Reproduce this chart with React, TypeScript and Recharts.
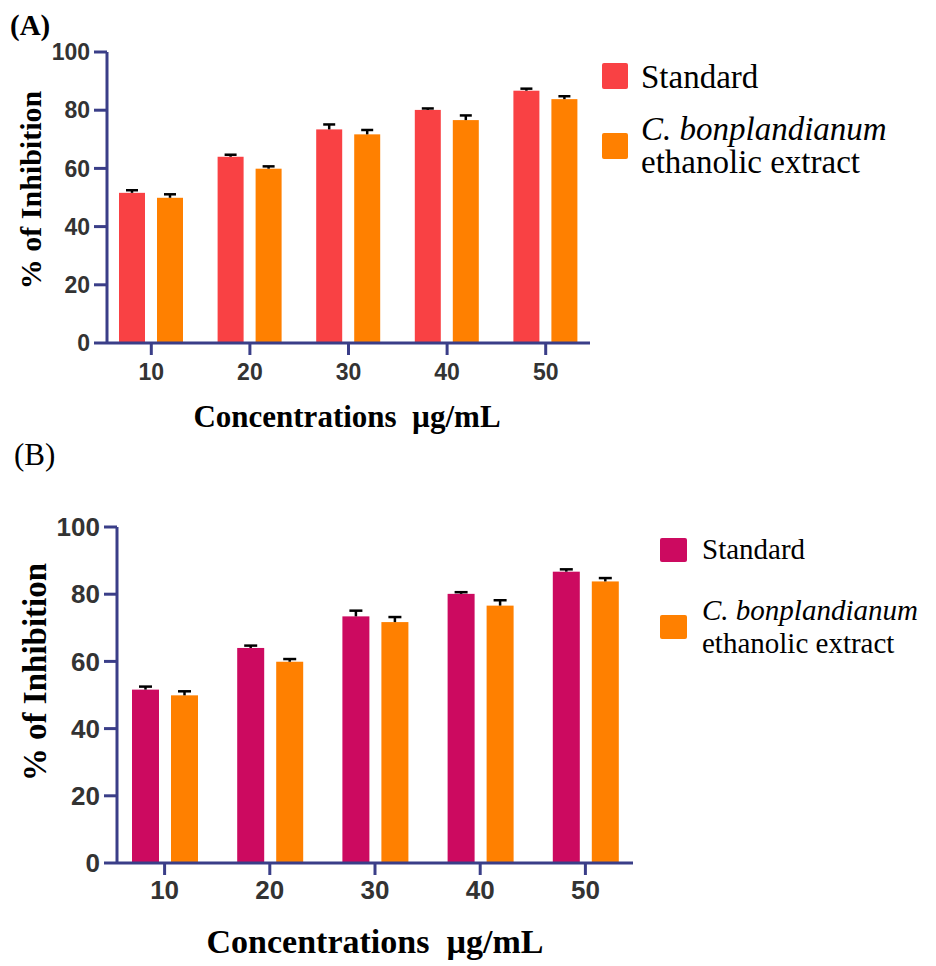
import { BarChart, Bar, XAxis, YAxis } from "recharts";

const concentrations = ["10", "20", "30", "40", "50"];
const standardValues = [51.6, 64.0, 73.4, 80.1, 86.7];
const standardErrors = [0.9, 0.7, 1.7, 0.5, 0.7];
const extractValues = [49.9, 59.9, 71.7, 76.6, 83.8];
const extractErrors = [1.2, 0.8, 1.5, 1.6, 1.0];
const yTicks = [0, 20, 40, 60, 80, 100];
const seriesNames = ["Standard", "C. bonplandianum", "ethanolic extract"];

const data = concentrations.map((c, i) => ({
  name: c,
  standard: standardValues[i],
  standardErr: standardErrors[i],
  extract: extractValues[i],
  extractErr: extractErrors[i],
}));

const AXIS = "#3a3e88";
const TICK_FONT = "'Liberation Sans', Arial, sans-serif";
const SERIF = "'Liberation Serif', 'Times New Roman', serif";
const ORANGE = "#ff8000";

// bar + upward-only error bar (T shape); error length scaled from the bar's own pixel height
const barWithError = (errKey: string, cap: number) => (props: any) => {
  const { x, y, width, height, fill, payload, value } = props;
  const v = Array.isArray(value) ? value[1] - value[0] : value;
  const e = v ? (payload[errKey] * height) / v : 0;
  const cx = x + width / 2;
  return (
    <g>
      <rect x={x} y={y} width={width} height={height} fill={fill} />
      <line x1={cx} y1={y} x2={cx} y2={y - e} stroke="#000" strokeWidth={2.5} />
      <line x1={cx - cap} y1={y - e} x2={cx + cap} y2={y - e} stroke="#000" strokeWidth={2.5} />
    </g>
  );
};

type PanelProps = {
  top: number;
  width: number;
  height: number;
  margin: { top: number; right: number; left: number; bottom: number };
  yWidth: number;
  fontSize: number;
  xTickMargin: number;
  barSize: number;
  capWidth: number;
  standardColor: string;
};

const Panel = (p: PanelProps) => (
  <div style={{ position: "absolute", left: 0, top: p.top }}>
    <BarChart
      width={p.width}
      height={p.height}
      data={data}
      margin={p.margin}
      barSize={p.barSize}
      barGap={12}
    >
      <XAxis
        dataKey="name"
        height={30}
        padding={{ left: -5, right: -5 }}
        axisLine={{ stroke: AXIS, strokeWidth: 3 }}
        tickLine={{ stroke: AXIS, strokeWidth: 3 }}
        tickSize={12}
        tickMargin={p.xTickMargin}
        tick={{ fill: "#333", fontSize: p.fontSize, fontWeight: 700, fontFamily: TICK_FONT }}
      />
      <YAxis
        width={p.yWidth}
        domain={[0, 100]}
        ticks={yTicks}
        interval={0}
        axisLine={{ stroke: AXIS, strokeWidth: 3 }}
        tickLine={{ stroke: AXIS, strokeWidth: 3 }}
        tickSize={13}
        tickMargin={4}
        tick={{ fill: "#333", fontSize: p.fontSize, fontWeight: 700, fontFamily: TICK_FONT }}
      />
      <Bar
        dataKey="standard"
        fill={p.standardColor}
        shape={barWithError("standardErr", p.capWidth)}
        isAnimationActive={false}
      />
      <Bar
        dataKey="extract"
        fill={ORANGE}
        shape={barWithError("extractErr", p.capWidth)}
        isAnimationActive={false}
      />
    </BarChart>
  </div>
);

export default function App() {
  return (
    <div style={{ position: "absolute", left: 0, top: 0, width: 936, height: 966, background: "#fff" }}>
      <Panel
        top={0}
        width={620}
        height={450}
        margin={{ top: 52, right: 30, left: 0, bottom: 77 }}
        yWidth={107}
        fontSize={23}
        xTickMargin={9}
        barSize={26}
        capWidth={6}
        standardColor="#f94144"
      />
      <Panel
        top={480}
        width={660}
        height={480}
        margin={{ top: 47, right: 27, left: 0, bottom: 67 }}
        yWidth={117}
        fontSize={26}
        xTickMargin={6}
        barSize={27}
        capWidth={6.5}
        standardColor="#cc0a60"
      />
      <svg
        width={936}
        height={966}
        style={{ position: "absolute", left: 0, top: 0, pointerEvents: "none" }}
        fontFamily={SERIF}
      >
        {/* panel A */}
        <text x={10} y={35} fontSize={29} fontWeight={700}>(A)</text>
        <text transform="translate(41,190) rotate(-90)" textAnchor="middle" fontSize={30} fontWeight={700}>
          % of Inhibition
        </text>
        <text x={347} y={427} textAnchor="middle" fontSize={31} fontWeight={700} style={{ whiteSpace: "pre" }}>
          {"Concentrations  µg/mL"}
        </text>
        <rect x={602} y={63} width={26} height={26} rx={2} fill="#f94144" />
        <text x={641} y={88} fontSize={33}>{seriesNames[0]}</text>
        <rect x={602} y={133} width={26} height={26} rx={2} fill={ORANGE} />
        <text x={641} y={140} fontSize={33} fontStyle="italic">{seriesNames[1]}</text>
        <text x={641} y={173} fontSize={33}>{seriesNames[2]}</text>

        {/* panel B */}
        <text x={14} y={465} fontSize={31}>(B)</text>
        <text transform="translate(46,672) rotate(-90)" textAnchor="middle" fontSize={33} fontWeight={700}>
          % of Inhibition
        </text>
        <text x={375} y={953} textAnchor="middle" fontSize={34} fontWeight={700} style={{ whiteSpace: "pre" }}>
          {"Concentrations  µg/mL"}
        </text>
        <rect x={660} y={538} width={27} height={24} rx={2} fill="#cc0a60" />
        <text x={702} y={559} fontSize={29}>{seriesNames[0]}</text>
        <rect x={660} y={615} width={27} height={24} rx={2} fill={ORANGE} />
        <text x={702} y={620} fontSize={29} fontStyle="italic">{seriesNames[1]}</text>
        <text x={702} y={653} fontSize={29}>{seriesNames[2]}</text>
      </svg>
    </div>
  );
}
